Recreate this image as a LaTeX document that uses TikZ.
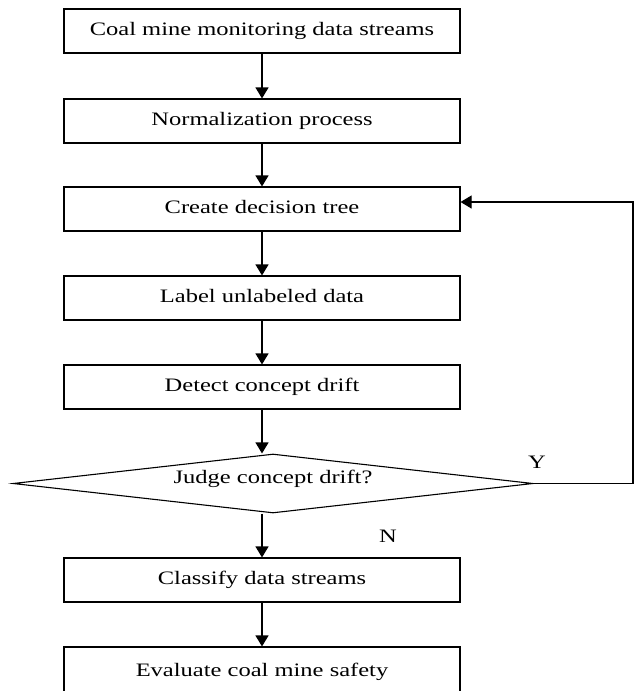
\documentclass[tikz,border=0pt]{standalone}
\usepackage{fontspec}
\setmainfont{Liberation Serif}[FakeStretch=1.29]
\usetikzlibrary{arrows.meta,shapes.geometric}
\begin{document}
\begin{tikzpicture}[x=1pt,y=-1pt,
  txt/.style={font=\fontsize{19}{22}\selectfont},
  box/.style={txt, draw, line width=1.1pt, minimum width=396pt, minimum height=44pt,
    inner sep=0pt, text height=0.66em, text depth=0pt},
  judgebox/.style={txt, draw, shape=diamond, aspect=8.8, line width=1.1pt,
    minimum width=520pt, minimum height=59pt, inner sep=0pt,
    text height=0.66em, text depth=0.66em},
  arr/.style={line width=1.1pt, -{Triangle[length=11pt,width=13pt]}},
  lbl/.style={txt, inner sep=0pt}]
\useasboundingbox (0,0) rectangle (639,691);
\clip (0,0) rectangle (639,691);
\node[box] (src) at (262,31) {\raisebox{-1.5pt}{Coal mine monitoring data streams}};
\node[box] (norm) at (262,121) {\raisebox{-1.5pt}{Normalization process}};
\node[box] (tree) at (262,209) {\raisebox{-1.5pt}{Create decision tree}};
\node[box] (lab) at (262,298) {\raisebox{-1.5pt}{Label unlabeled data}};
\node[box] (det) at (262,387) {\raisebox{-1.5pt}{Detect concept drift}};
\node[judgebox] (judge) at (273,483.5) {Judge concept drift?};
\node[box] (cls) at (262,580) {\raisebox{-1.5pt}{Classify data streams}};
\node[box, minimum height=50pt] (eval) at (262,672) {\raisebox{-1.5pt}{Evaluate coal mine safety}};
\coordinate (rc) at (633,202);
\draw[arr] (src) -- (norm);
\draw[arr] (norm) -- (tree);
\draw[arr] (tree) -- (lab);
\draw[arr] (lab) -- (det);
\draw[arr] (det.south) -- (det.south |- judge.north);
\draw[arr] (judge.south -| det.south) -- (cls.north);
\draw[arr] (cls) -- (eval);
\draw[arr] (judge.east) -| (rc) -- (rc -| tree.east);
\node[lbl] (ylab) at (537,462) {Y};
\node[lbl] (nlab) at (388,536) {N};
\end{tikzpicture}
\end{document}
